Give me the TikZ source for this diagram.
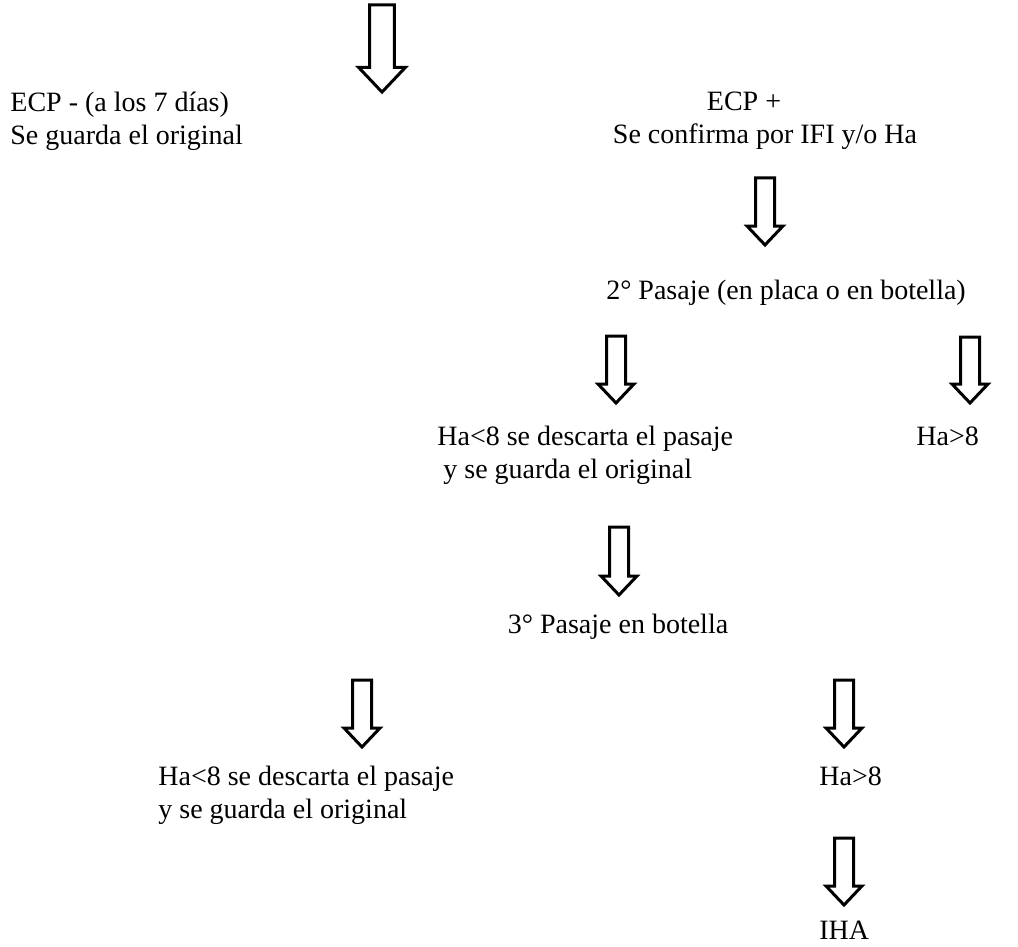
\documentclass[tikz,border=0pt]{standalone}
\usepackage{fontspec}
\setmainfont{Liberation Serif}
\usetikzlibrary{positioning}

\tikzset{
  texto/.style={font=\fontsize{14}{16.5}\selectfont, inner sep=0pt, align=left},
  flecha/.style={draw=black, line width=1.5pt, line join=miter, fill=white},
  pics/bajada/.style={code={
    \path[flecha] (-9.5,0) -- (9.5,0) -- (9.5,#1-19) -- (18,#1-19) -- (0,#1)
      -- (-18,#1-19) -- (-9.5,#1-19) -- cycle;
  }}
}

\begin{document}
\begin{tikzpicture}[x=0.5pt, y=-0.5pt]
\useasboundingbox (0,0) rectangle (1018,947);

% textos
\node[texto, anchor=north west] (ecpneg) at (10,92) {ECP - (a los 7 días)\\Se guarda el original};
\node[texto, anchor=north, align=center] (ecpmas) at (765,92) {ECP +\hspace*{1.5em}\\Se confirma por IFI y/o Ha};
\node[texto, anchor=north] (pasaje2) at (786,280) {2° Pasaje (en placa o en botella)};
\node[texto, anchor=north west] (descarte1) at (437,426) {Ha<8 se descarta el pasaje\\\hspace*{3pt}y se guarda el original};
\node[texto, anchor=north west] (hamayor1) at (916,426) {Ha>8};
\node[texto, anchor=north] (pasaje3) at (618,614) {3° Pasaje en botella};
\node[texto, anchor=north west] (descarte2) at (158,766) {Ha<8 se descarta el pasaje\\y se guarda el original};
\node[texto, anchor=north west] (hamayor2) at (819,766) {Ha>8};
\node[texto, anchor=north west] (iha) at (819,921) {IHA};

% flechas
\pic[scale=1.3] at (382,5) {bajada=67};
\pic at (765,178) {bajada=67};
\pic at (616,336) {bajada=67};
\pic at (970,337) {bajada=66};
\pic at (619,527) {bajada=68};
\pic at (362,680) {bajada=67};
\pic at (844,680) {bajada=67};
\pic at (844,838) {bajada=67};
\end{tikzpicture}
\end{document}
